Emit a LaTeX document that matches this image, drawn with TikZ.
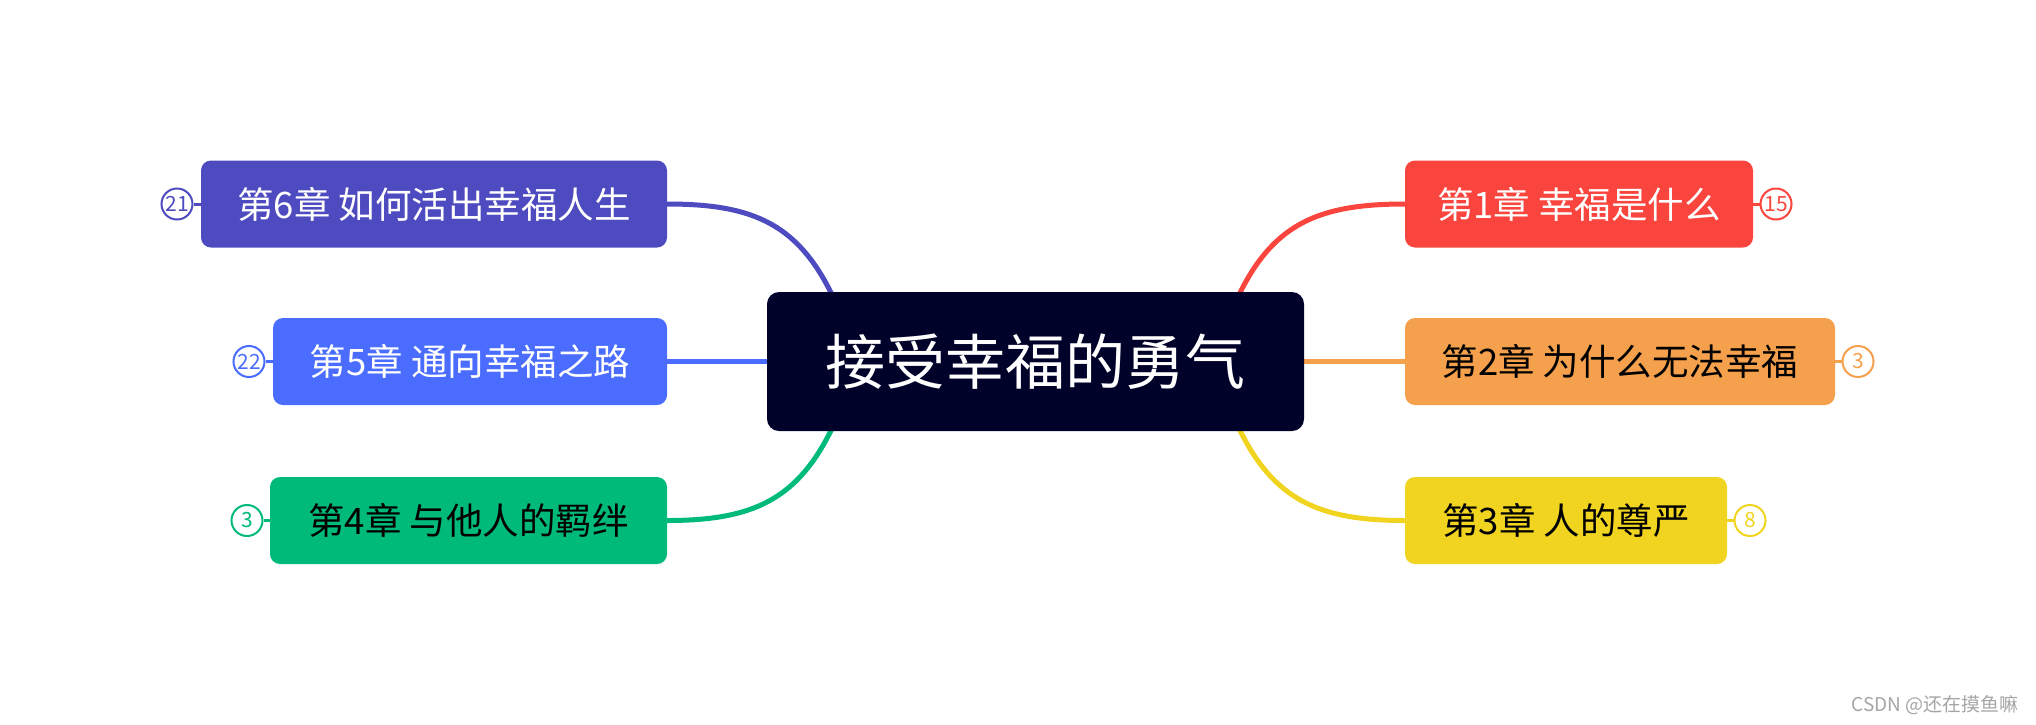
\documentclass[tikz,border=0pt]{standalone}
\usepackage{fontspec}
\setmainfont{Noto Sans CJK SC}
\usetikzlibrary{backgrounds}
\definecolor{rootc}{RGB}{0,2,41}
\definecolor{cone}{RGB}{249,69,61}
\definecolor{ctwo}{RGB}{245,160,77}
\definecolor{cthree}{RGB}{240,212,32}
\definecolor{cfour}{RGB}{0,186,122}
\definecolor{cfive}{RGB}{74,108,255}
\definecolor{csix}{RGB}{77,75,191}
\definecolor{wmark}{RGB}{165,165,165}
\begin{document}
\begin{tikzpicture}[x=1pt,y=-1pt,
  rootbox/.style={fill=rootc, text=white, rounded corners=12pt, minimum width=537pt, minimum height=139pt, inner sep=0pt, font=\fontsize{60}{66}\selectfont},
  chap/.style={rounded corners=10pt, minimum height=87pt, inner sep=0pt, font=\fontsize{36.5}{40}\selectfont},
  badge/.style={circle, draw, line width=2pt, fill=white, minimum size=31pt, inner sep=0pt, font=\fontsize{21}{22}\selectfont},
  link/.style={line width=5pt},
  tick/.style={line width=3pt}]
\useasboundingbox (0,0) rectangle (2036,724);
\node[rootbox] (root) at (1035.5,361.5) {接受幸福的勇气};
% right side
\node[chap, fill=cone, text=white, minimum width=348pt] (ch1) at (1579,204) {第1章 幸福是什么};
\node[chap, fill=ctwo, text=black, minimum width=430pt] (ch2) at (1620,361.5) {第2章 为什么无法幸福};
\node[chap, fill=cthree, text=black, minimum width=322pt] (ch3) at (1566,520.5) {第3章 人的尊严};
% left side
\node[chap, fill=csix, text=white, minimum width=466pt] (ch6) at (434,204) {第6章 如何活出幸福人生};
\node[chap, fill=cfive, text=white, minimum width=394pt] (ch5) at (470,361.5) {第5章 通向幸福之路};
\node[chap, fill=cfour, text=black, minimum width=397pt] (ch4) at (468.5,520.5) {第4章 与他人的羁绊};
% badges
\node[badge, draw=cone, text=cone] (b1) at (1776,204) {15};
\node[badge, draw=ctwo, text=ctwo] (b2) at (1858,361.5) {3};
\node[badge, draw=cthree, text=cthree] (b3) at (1750,520.5) {8};
\node[badge, draw=csix, text=csix] (b6) at (177,204) {21};
\node[badge, draw=cfive, text=cfive] (b5) at (249,361.5) {22};
\node[badge, draw=cfour, text=cfour] (b4) at (247,520.5) {3};
\begin{pgfonlayer}{background}
\draw[link, cone] ([xshift=178pt]root.center) .. controls (1253,234) and (1298,204) .. (ch1.west);
\draw[link, ctwo] (root.east) -- (ch2.west);
\draw[link, cthree] ([xshift=178pt]root.center) .. controls (1253,489) and (1298,520.5) .. (ch3.west);
\draw[link, csix] ([xshift=-178pt]root.center) .. controls (818,234) and (773,204) .. (ch6.east);
\draw[link, cfive] (root.west) -- (ch5.east);
\draw[link, cfour] ([xshift=-178pt]root.center) .. controls (818,489) and (773,520.5) .. (ch4.east);
\draw[tick, cone] (ch1.east) -- (b1.west);
\draw[tick, ctwo] (ch2.east) -- (b2.west);
\draw[tick, cthree] (ch3.east) -- (b3.west);
\draw[tick, csix] (ch6.west) -- (b6.east);
\draw[tick, cfive] (ch5.west) -- (b5.east);
\draw[tick, cfour] (ch4.west) -- (b4.east);
\end{pgfonlayer}
\node[text=wmark, font=\fontsize{19}{21}\selectfont, anchor=east] (wm) at (2022,705) {CSDN @还在摸鱼嘛};
\end{tikzpicture}
\end{document}
